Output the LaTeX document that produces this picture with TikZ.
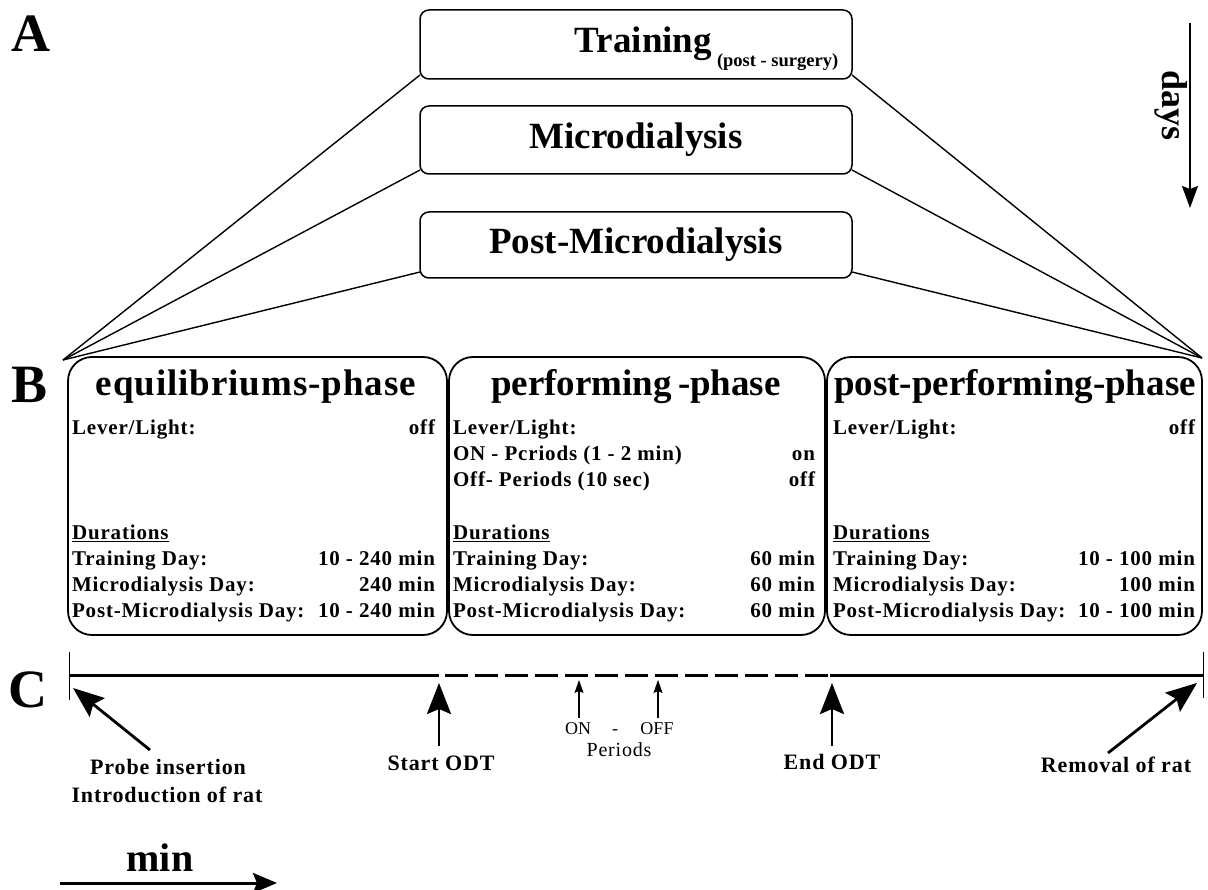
\documentclass[tikz,border=0pt]{standalone}
\usepackage{fontspec}
\setmainfont{Liberation Serif}
\newfontfamily\spaced[LetterSpace=4]{Liberation Serif}
\newfontfamily\titlesp[LetterSpace=2.5]{Liberation Serif}
\usetikzlibrary{arrows.meta}
\newcommand\fsz[1]{\fontsize{#1}{#1}\selectfont}
\begin{document}
\begin{tikzpicture}[x=1pt,y=-1pt,
  every node/.style={inner sep=0pt, outer sep=0pt},
  letter/.style={font=\bfseries\fsz{54}},
  topbox/.style={draw, line width=1.5pt, rounded corners=9pt, minimum width=432pt, font=\bfseries\fsz{37}},
  phasebox/.style={draw, line width=1.8pt, rounded corners=24pt, minimum height=278pt},
  titletxt/.style={font=\bfseries\fsz{37}},
  body/.style={font=\spaced\bfseries\fontsize{21}{26.2}\selectfont, anchor=north west},
  conn/.style={line width=1.4pt},
  bigarrow/.style={line width=2.8pt, -{Stealth[length=31pt,width=24pt,inset=5pt]}},
  smallarrow/.style={line width=1.1pt, -{Stealth[length=13pt,width=9pt,inset=2pt]}},
  evt/.style={font=\spaced\bfseries\fsz{22}},
  smalltxt/.style={font=\fsz{18}},
  timeline/.style={line width=3pt},
]
\useasboundingbox (0,0) rectangle (1208,890);

% panel letters
\node[letter] (A) at (31,34) {A};
\node[letter] (B) at (30,385) {B};
\node[letter] (C) at (28,690) {C};

% A: day boxes
\node[topbox, minimum height=69pt] (tr) at (636,44.5) {};
\node[font=\bfseries\fsz{37}, anchor=base east] (trT) at (712,53) {Training};
\node[font=\bfseries\fsz{18.5}, anchor=base west] (trS) at (717,67) {(post - surgery)};
\node[topbox, minimum height=68pt] (mi) at (636,140) {Microdialysis};
\node[topbox, minimum height=66pt] (po) at (636,245) {Post-Microdialysis};

% days arrow
\node[font=\bfseries\fsz{36}, rotate=-90] (days) at (1171,106) {days};
\coordinate (dTop) at (1190,23);
\coordinate (dBot) at (1190,208);
\draw[line width=1.5pt, -{Stealth[length=22pt,width=16pt,inset=3pt]}] (dTop) -- (dBot);

% B: phase boxes
\node[phasebox, minimum width=379pt] (eq) at (257.5,496) {};
\node[phasebox, minimum width=376pt] (pf) at (637,496) {};
\node[phasebox, minimum width=375pt] (pp) at (1014.5,496) {};

% connectors A -> B
\coordinate (apL) at (63,360);
\coordinate (apR) at (1202,358);
\draw[conn] ([yshift=4pt]tr.south west) -- (apL);
\draw[conn] ([yshift=4pt]mi.south west) -- (apL);
\draw[conn] ([yshift=6pt]po.south west) -- (apL);
\draw[conn] ([yshift=4pt]tr.south east) -- (apR);
\draw[conn] ([yshift=4pt]mi.south east) -- (apR);
\draw[conn] ([yshift=6pt]po.south east) -- (apR);

% titles
\node[titletxt, font=\titlesp\bfseries\fsz{37}] (eqT) at (256,387) {equilibriums-phase};
\node[titletxt] (pfT) at (636,387) {performing\hspace{6pt}-phase};
\node[titletxt] (ppT) at (1015,387) {post-performing-phase};

% bodies
\node[body] (eqB) at (72,416) {\begin{tabular*}{363pt}{@{}l@{\extracolsep{\fill}}r@{}}
Lever/Light: & off\\
 & \\
 & \\
 & \\
\underline{Durations} & \\
Training Day: & 10 - 240 min\\
Microdialysis Day: & 240 min\\
Post-Microdialysis Day: & 10 - 240 min
\end{tabular*}};
\node[body] (pfB) at (453,416) {\begin{tabular*}{362pt}{@{}l@{\extracolsep{\fill}}r@{}}
Lever/Light: & \\
ON - Pcriods (1 - 2 min) & on\\
Off- Periods (10 sec) & off\\
 & \\
\underline{Durations} & \\
Training Day: & 60 min\\
Microdialysis Day: & 60 min\\
Post-Microdialysis Day: & 60 min
\end{tabular*}};
\node[body] (ppB) at (833,416) {\begin{tabular*}{362pt}{@{}l@{\extracolsep{\fill}}r@{}}
Lever/Light: & off\\
 & \\
 & \\
 & \\
\underline{Durations} & \\
Training Day: & 10 - 100 min\\
Microdialysis Day: & 100 min\\
Post-Microdialysis Day: & 10 - 100 min
\end{tabular*}};

% C: timeline
\coordinate (t0) at (69,675);
\coordinate (tS) at (439,675);
\coordinate (tE) at (830,675);
\coordinate (t1) at (1203,675);
\draw[timeline] (t0) -- (tS);
\draw[timeline, dash pattern=on 23pt off 7pt, dash phase=24pt] (tS) -- (tE);
\draw[timeline] (tE) -- (t1);
\draw[line width=1pt] ([yshift=23pt]t0) -- ([yshift=-25pt]t0);
\draw[line width=1pt] ([yshift=23pt]t1) -- ([yshift=-23pt]t1);

% events
\node[evt] (probe) at (168,767) {Probe insertion};
\node[evt] (intro) at (167,795) {Introduction of rat};
\node[evt] (start) at (441,763) {Start ODT};
\node[evt] (endodt) at (832,762) {End ODT};
\node[evt] (removal) at (1116,765) {Removal of rat};
\node[smalltxt, anchor=base] (on) at (578,734) {ON};
\node[smalltxt, anchor=base] (dash) at (615,734) {-};
\node[smalltxt, anchor=base] (off) at (657,734) {OFF};
\node[font=\spaced\fsz{20}] (periods) at (619,750) {Periods};

\coordinate (probeTail) at (150,750);
\coordinate (probeTip) at (73,688);
\coordinate (startTail) at (439,746);
\coordinate (startTip) at (439,683);
\coordinate (endTail) at (832,746);
\coordinate (endTip) at (832,683);
\coordinate (remTail) at (1108,753);
\coordinate (remTip) at (1197,683);
\coordinate (onTail) at (579,718);
\coordinate (onTip) at (579,680);
\coordinate (offTail) at (658,718);
\coordinate (offTip) at (658,680);
\draw[bigarrow] (probeTail) -- (probeTip);
\draw[bigarrow] (startTail) -- (startTip);
\draw[bigarrow] (endTail) -- (endTip);
\draw[bigarrow] (remTail) -- (remTip);
\draw[smallarrow] (onTail) -- (onTip);
\draw[smallarrow] (offTail) -- (offTip);

% min arrow
\node[font=\bfseries\fsz{40}] (min) at (160,858) {min};
\coordinate (mL) at (60,883);
\coordinate (mR) at (277,883);
\draw[line width=3pt, -{Stealth[length=24pt,width=20pt,inset=4pt]}] (mL) -- (mR);
\end{tikzpicture}
\end{document}
